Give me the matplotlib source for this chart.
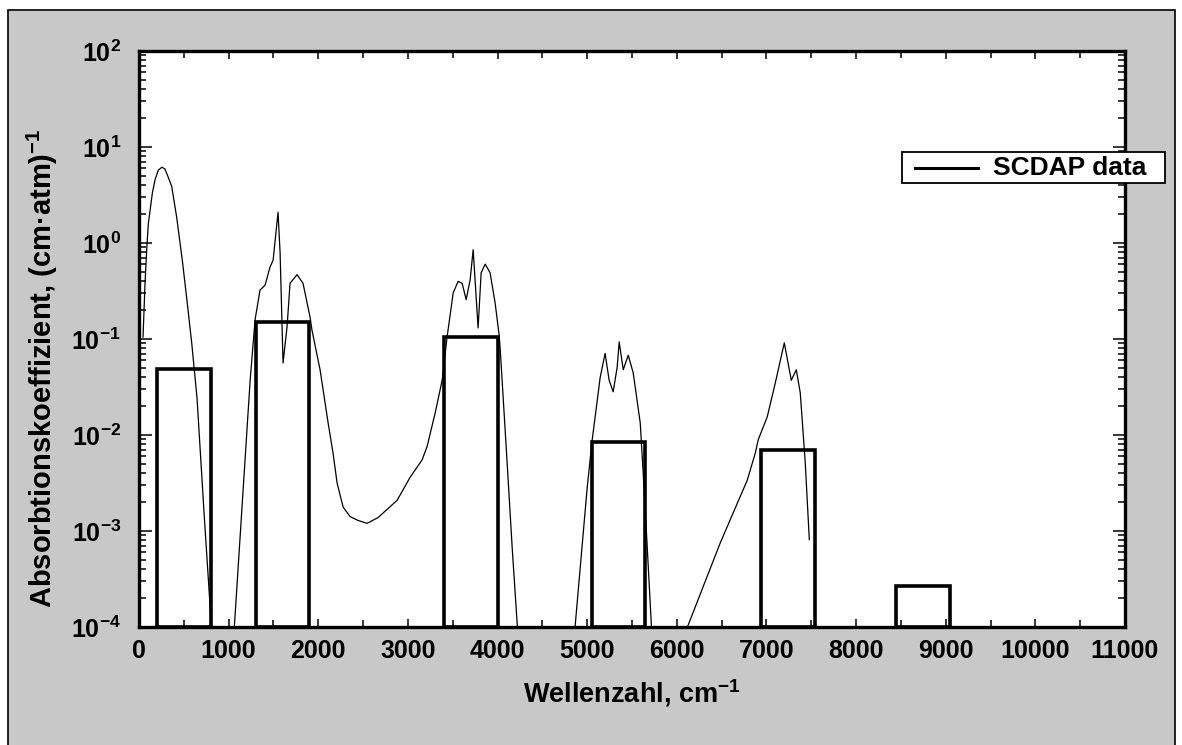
import numpy as np
import matplotlib
matplotlib.use('Agg')
import matplotlib.pyplot as plt
from matplotlib.patches import Rectangle
from matplotlib.lines import Line2D
from matplotlib.ticker import MultipleLocator, LogLocator, FuncFormatter, NullFormatter

# Schrift: fett, Helvetica-artig
plt.rcParams['font.family'] = ['Liberation Sans', 'DejaVu Sans']
plt.rcParams['font.weight'] = 'bold'
plt.rcParams['mathtext.fontset'] = 'custom'
plt.rcParams['mathtext.bf'] = 'Liberation Sans:bold'
plt.rcParams['mathtext.rm'] = 'Liberation Sans:bold'
plt.rcParams['mathtext.default'] = 'bf'

# SCDAP Kurve (Wellenzahl, log10 Absorptionskoeffizient), NaN = Luecke
curve_x = [45, 67, 89, 104, 149, 179, 216, 257, 290, 324, 365, 420, 458, 487, 539, 588, 647, 725, 815,
           np.nan,
           1060, 1240, 1295, 1350, 1406, 1462, 1496, 1551, 1574, 1607, 1652, 1685,
           1763, 1830, 1908, 1930, 2020, 2110, 2165, 2210, 2277, 2355, 2444, 2545,
           2667, 2880, 3025, 3158, 3214, 3304, 3382, 3437, 3505, 3560, 3605, 3650,
           3694, 3728, 3783, 3817, 3862, 3917, 3973, 4018, 4030, 4107, 4163, 4225,
           np.nan,
           4860, 5000, 5056, 5089, 5145, 5200, 5245, 5290, 5335, 5357, 5402, 5458,
           5513, 5592, 5625, 5670, 5720,
           np.nan,
           6110, 6484, 6786, 6875, 6908, 7009, 7098, 7199, 7277, 7333, 7377, 7433, 7478]
curve_logy = [-0.98, -0.42, -0.02, 0.2, 0.52, 0.66, 0.76, 0.79, 0.77, 0.69, 0.59, 0.27, 0.0, -0.21, -0.63, -1.04, -1.61, -2.8, -4.1,
              np.nan,
              -4.05, -1.43, -0.80, -0.49, -0.44, -0.25, -0.18, 0.32, -0.10, -1.25, -0.87, -0.42,
              -0.33, -0.42, -0.77, -0.91, -1.32, -1.875, -2.19, -2.5, -2.75, -2.85, -2.89, -2.92,
              -2.86, -2.68, -2.44, -2.26, -2.12, -1.77, -1.43, -0.98, -0.52, -0.40, -0.42, -0.59,
              -0.385, -0.07, -0.885, -0.31, -0.22, -0.31, -0.625, -0.96, -1.11, -2.29, -3.17, -4.05,
              np.nan,
              -4.05, -2.55, -2.05, -1.81, -1.40, -1.15, -1.43, -1.55, -1.29, -1.03, -1.32, -1.17,
              -1.35, -1.875, -2.40, -3.17, -4.05,
              np.nan,
              -4.02, -3.125, -2.47, -2.19, -2.05, -1.81, -1.46, -1.04, -1.43, -1.32, -1.56, -2.29, -3.09]

# Bandmodell (Balken)
band_left = [200, 1300, 3400, 5050, 6940, 8450]
band_width = [600, 600, 600, 600, 600, 600]
band_value = [0.049, 0.15, 0.105, 0.0085, 0.0069, 0.00027]

ymin, ymax = 1e-4, 1e2
W, H = 1182, 745

fig = plt.figure(figsize=(W / 100, H / 100), dpi=100, facecolor='white')
# grauer Hintergrund mit Rahmen (Scan)
bg = Rectangle((8 / W, -0.01), (1175 - 8) / W, 1.01 - 10 / H,
               transform=fig.transFigure, facecolor='#c8c8c8',
               edgecolor='black', lw=1.2, zorder=-10)
fig.patches.append(bg)

ax = fig.add_axes([139 / W, 1 - 627 / H, (1125 - 139) / W, (627 - 51) / H])
ax.set_facecolor('white')

y_curve = np.power(10.0, np.array(curve_logy))
ax.plot(curve_x, y_curve, color='black', lw=0.9, zorder=3)

ax.bar(band_left, [v - ymin for v in band_value], width=band_width, bottom=ymin,
       align='edge', fill=False, edgecolor='black', lw=2.6, zorder=4)

ax.set_yscale('log')
ax.set_xlim(0, 11000)
ax.set_ylim(ymin, ymax)
ax.xaxis.set_major_locator(MultipleLocator(1000))
ax.xaxis.set_minor_locator(MultipleLocator(500))
ax.yaxis.set_major_locator(LogLocator(base=10, numticks=10))
ax.yaxis.set_minor_locator(LogLocator(base=10, subs=np.arange(2, 10), numticks=10))
ax.yaxis.set_minor_formatter(NullFormatter())
ax.yaxis.set_major_formatter(FuncFormatter(lambda v, p: r'$10^{%d}$' % int(round(np.log10(v)))))

for s in ax.spines.values():
    s.set_linewidth(2.4)

ax.tick_params(axis='both', which='both', direction='in', top=True, right=True, width=1.1)
ax.tick_params(axis='x', which='major', length=6, labelsize=18, pad=9)
ax.tick_params(axis='x', which='minor', length=5)
ax.tick_params(axis='y', which='major', length=9, labelsize=18, pad=13)
ax.tick_params(axis='y', which='minor', length=5)

ax.set_xlabel(r'Wellenzahl, cm$^{-1}$', fontsize=19.5, fontweight='bold', labelpad=10)
ax.set_ylabel(r'Absorbtionskoeffizient, (cm·atm)$^{-1}$', fontsize=21, fontweight='bold')
ax.yaxis.set_label_coords(-0.08, 0.45)

# Legende von Hand, ragt ueber den rechten Rand hinaus
fig.patches.append(Rectangle((902 / W, 1 - 183 / H), (1165 - 902) / W, 31 / H,
                             transform=fig.transFigure, facecolor='white',
                             edgecolor='black', lw=1.3, zorder=20))
fig.lines.append(Line2D([915 / W, 978 / W], [1 - 168 / H, 1 - 168 / H],
                        transform=fig.transFigure, color='black', lw=2.2, zorder=21))
fig.text(993 / W, 1 - 168 / H, 'SCDAP data', fontsize=19, fontweight='bold',
         va='center', ha='left', zorder=22)

fig.savefig('out.png', dpi=100)
